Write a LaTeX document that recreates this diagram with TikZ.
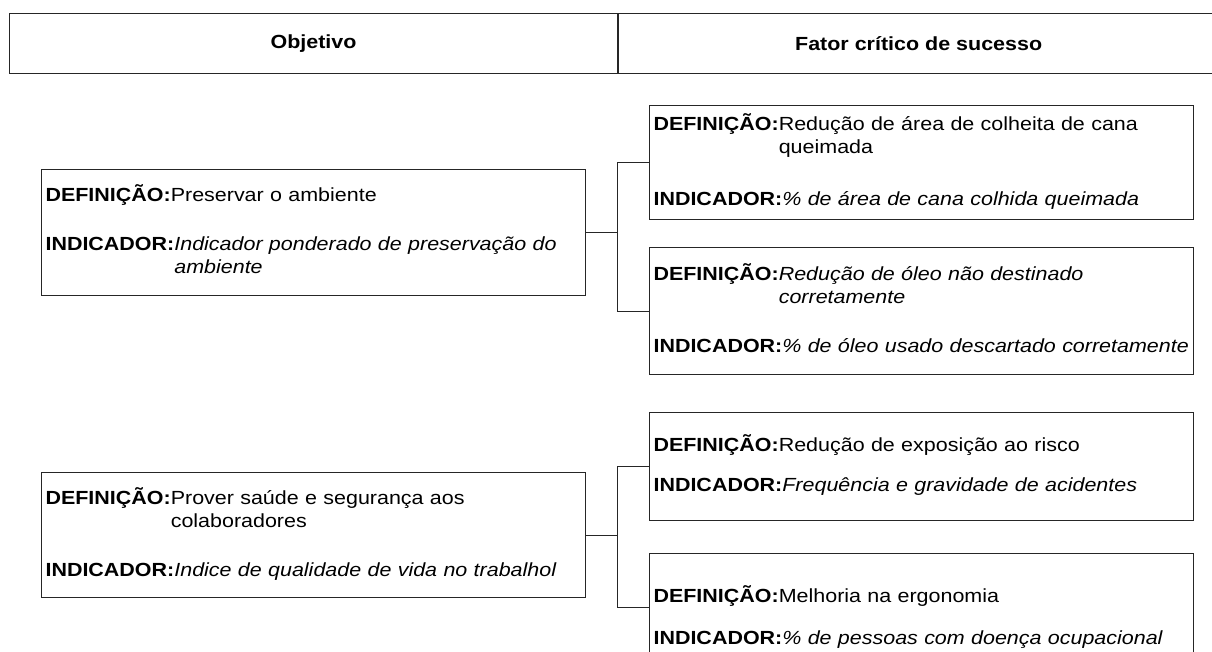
\documentclass[tikz,border=0pt]{standalone}
\usepackage{fontspec}
\setmainfont{Liberation Sans}[FakeStretch=1.13]
\usetikzlibrary{positioning}

\newcommand{\campo}[2]{\textbf{#1}\begin{tabular}[t]{@{}l@{}}#2\end{tabular}}

\begin{document}
\begin{tikzpicture}[x=1pt, y=-1pt,
  font=\fontsize{19}{23}\selectfont,
  hdr/.style={draw=black!85, line width=1.1pt, minimum height=60, anchor=north west, inner sep=0pt},
  box/.style={draw=black!85, line width=1.1pt, minimum width=544, anchor=north west,
    text width=536, inner xsep=4pt, align=left},
  conn/.style={draw=black!85, line width=1.1pt}]
\useasboundingbox (0,0) rectangle (1212,652);

\node[hdr, minimum width=608] (obj) at (9,13) {\textbf{Objetivo}};
\node[hdr, minimum width=600, right=0pt of obj] (fcs) {\textbf{Fator crítico de sucesso}};

\node[box, minimum height=126] (L1) at (41,169) {\campo{DEFINIÇÃO:}{Preservar o ambiente}\\[26pt]
  \campo{INDICADOR:}{\textit{Indicador ponderado de preservação do}\\\textit{ambiente}}};
\node[box, minimum height=114] (R1) at (649,105) {\campo{DEFINIÇÃO:}{Redução de área de colheita de cana\\queimada}\\[28pt]
  \campo{INDICADOR:}{\textit{\% de área de cana colhida queimada}}};
\node[box, minimum height=127] (R2) at (649,247) {\campo{DEFINIÇÃO:}{\textit{Redução de óleo não destinado}\\\textit{corretamente}}\\[25pt]
  \campo{INDICADOR:}{\textit{\% de óleo usado descartado corretamente}}};

\node[box, minimum height=125] (L2) at (41,472) {\campo{DEFINIÇÃO:}{Prover saúde e segurança aos\\colaboradores}\\[25pt]
  \campo{INDICADOR:}{\textit{Indice de qualidade de vida no trabalhol}}};
\node[box, minimum height=108] (R3) at (649,412) {\campo{DEFINIÇÃO:}{Redução de exposição ao risco}\\[17pt]
  \campo{INDICADOR:}{\textit{Frequência e gravidade de acidentes}}};
\node[box, minimum height=130] (R4) at (649,553) {\campo{DEFINIÇÃO:}{Melhoria na ergonomia}\\[19pt]
  \campo{INDICADOR:}{\textit{\% de pessoas com doença ocupacional}}};

\draw[conn] (L1.east) -- ++(31,0) |- (R1.west);
\draw[conn] (L1.east) -- ++(31,0) |- (R2.west);
\draw[conn] (L2.east) -- ++(31,0) |- (R3.west);
\draw[conn] (L2.east) -- ++(31,0) |- ([yshift=11pt]R4.west);
\end{tikzpicture}
\end{document}
